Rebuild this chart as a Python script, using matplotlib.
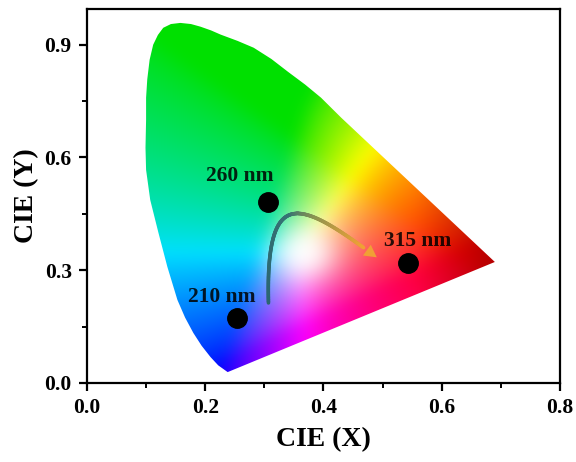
import numpy as np
import matplotlib
matplotlib.use("Agg")
import matplotlib.pyplot as plt
from matplotlib.path import Path
from matplotlib.patches import PathPatch, FancyArrowPatch
from matplotlib.collections import LineCollection
from matplotlib.colors import LinearSegmentedColormap
from matplotlib.bezier import BezierSegment
from matplotlib.ticker import MultipleLocator

plt.rcParams["font.family"] = ["Liberation Serif", "DejaVu Serif"]
plt.rcParams["font.weight"] = "bold"

# Outline of the chromaticity gamut as drawn on these axes
gamut_x = [0.238, 0.222, 0.209, 0.194, 0.180, 0.166, 0.153, 0.136, 0.121,
           0.107, 0.100, 0.099, 0.100, 0.100, 0.102, 0.106, 0.112, 0.120,
           0.129, 0.142, 0.158, 0.176, 0.192, 0.210, 0.226, 0.255, 0.282,
           0.312, 0.340, 0.369, 0.396, 0.430, 0.690]
gamut_y = [0.029, 0.047, 0.069, 0.099, 0.133, 0.174, 0.221, 0.309, 0.399,
           0.487, 0.567, 0.626, 0.700, 0.759, 0.808, 0.860, 0.900, 0.926,
           0.945, 0.955, 0.958, 0.955, 0.948, 0.938, 0.927, 0.910, 0.892,
           0.862, 0.828, 0.794, 0.759, 0.706, 0.322]

# Emission colour coordinates for each excitation wavelength
labels = ["210 nm", "260 nm", "315 nm"]
cie_x = [0.253, 0.306, 0.543]
cie_y = [0.173, 0.482, 0.319]
label_x = [0.228, 0.258, 0.559]
label_y = [0.229, 0.551, 0.378]

# Control points of the curved trend arrow
trend_ctrl_x = [0.307, 0.302, 0.365, 0.494]
trend_ctrl_y = [0.213, 0.540, 0.480, 0.330]

x_ticks = [0.0, 0.2, 0.4, 0.6, 0.8]
y_ticks = [0.0, 0.3, 0.6, 0.9]

# Linear stretch between the plotted frame and CIE 1931 chromaticity
SX, OX = 0.804, 0.110
SY, OY = 1.121, -0.02
WHITE = (0.325, 0.325)


def chroma_rgb(px, py):
    cx = (px - OX) / SX
    cy = np.clip((py - OY) / SY, 1e-3, None)
    X = cx / cy
    Y = np.ones_like(cx)
    Z = np.clip((1.0 - cx - cy) / cy, 0, None)
    m = np.array([[3.2406, -1.5372, -0.4986],
                  [-0.9689, 1.8758, 0.0415],
                  [0.0557, -0.2040, 1.0570]])
    xyz = np.stack([X, Y, Z], axis=-1)
    rgb = xyz @ m.T
    rgb = np.clip(rgb, 0, None)
    rgb = rgb / np.clip(rgb.max(axis=-1, keepdims=True), 1e-6, None)
    rgb = np.clip(rgb, 0, 1) ** (1 / 1.5)
    # slightly deeper pure greens, leaving yellows bright
    rgb[..., 1] *= 1 - 0.12 * (1 - rgb[..., 0])
    # soft white core around the white point
    d2 = (cx - WHITE[0]) ** 2 + (cy - WHITE[1]) ** 2
    w = np.exp(-d2 / 0.055 ** 2)[..., None]
    rgb = rgb + (1 - rgb) * w
    # deeper red toward the long-wavelength corner
    dark = 1 - 0.3 * np.clip((px - 0.56) / 0.13, 0, 1)
    rgb = rgb * dark[..., None]
    return rgb


def soften(img, sigma):
    r = int(3 * sigma)
    k = np.exp(-0.5 * (np.arange(-r, r + 1) / sigma) ** 2)
    k /= k.sum()
    pad = np.pad(img, ((r, r), (r, r), (0, 0)), mode="edge")
    out = np.apply_along_axis(lambda v: np.convolve(v, k, mode="valid"), 0, pad)
    out = np.apply_along_axis(lambda v: np.convolve(v, k, mode="valid"), 1, out)
    return out


fig = plt.figure(figsize=(5.76, 4.62), dpi=100)
ax = fig.add_axes([0.151, 0.171, 0.821, 0.8095])

xmin, xmax, ymin, ymax = 0.0, 0.8, 0.0, 0.995
gx, gy = np.meshgrid(np.linspace(xmin, xmax, 400), np.linspace(ymin, ymax, 400))
img = np.clip(soften(chroma_rgb(gx, gy), 7), 0, 1)
im = ax.imshow(img, origin="lower", extent=[xmin, xmax, ymin, ymax],
               aspect="auto", interpolation="bilinear", zorder=1)
verts = list(zip(gamut_x, gamut_y)) + [(gamut_x[0], gamut_y[0])]
outline = PathPatch(Path(verts, closed=True), facecolor="none",
                    edgecolor="none", transform=ax.transData)
ax.add_patch(outline)
im.set_clip_path(outline)

# Trend arrow with a teal-to-orange colour ramp
seg = BezierSegment(np.column_stack([trend_ctrl_x, trend_ctrl_y]))
t = np.linspace(0, 0.93, 200)
pts = seg(t)
segments = np.stack([pts[:-1], pts[1:]], axis=1)
cmap = LinearSegmentedColormap.from_list(
    "trend", [(0.0, "#2b6672"), (0.5, "#377474"), (0.72, "#8c9450"),
              (1.0, "#f0a035")])
lc = LineCollection(segments, colors=cmap(np.linspace(0, 1, len(segments))),
                    linewidths=2.6, capstyle="round", zorder=3)
ax.add_collection(lc)
tip = seg(np.array([1.0]))[0]
ax.add_patch(FancyArrowPatch(tuple(pts[-6]), tuple(tip),
                             arrowstyle="-|>,head_length=0.55,head_width=0.3",
                             mutation_scale=16, color="#f0a035", lw=0,
                             zorder=3))

ax.plot(cie_x, cie_y, "o", color="black", markersize=14, zorder=4)
for lab, lx, ly in zip(labels, label_x, label_y):
    ax.text(lx, ly, lab, ha="center", va="center", fontsize=15.5,
            fontweight="bold", color="black", alpha=0.85, zorder=5)

ax.set_xlim(xmin, xmax)
ax.set_ylim(ymin, ymax)
ax.set_xticks(x_ticks)
ax.set_yticks(y_ticks)
ax.set_xticklabels([f"{v:.1f}" for v in x_ticks])
ax.set_yticklabels([f"{v:.1f}" for v in y_ticks])
ax.xaxis.set_minor_locator(MultipleLocator(0.1))
ax.yaxis.set_minor_locator(MultipleLocator(0.15))
ax.tick_params(which="major", direction="out", length=6, width=1.6,
               labelsize=15.5, pad=5)
ax.tick_params(which="minor", direction="out", length=3.5, width=1.4)
for sp in ax.spines.values():
    sp.set_linewidth(1.6)
ax.set_xlabel("CIE (X)", fontsize=20, fontweight="bold", labelpad=6)
ax.set_ylabel("CIE (Y)", fontsize=20, fontweight="bold", labelpad=4)

fig.savefig("out.png", dpi=100)
